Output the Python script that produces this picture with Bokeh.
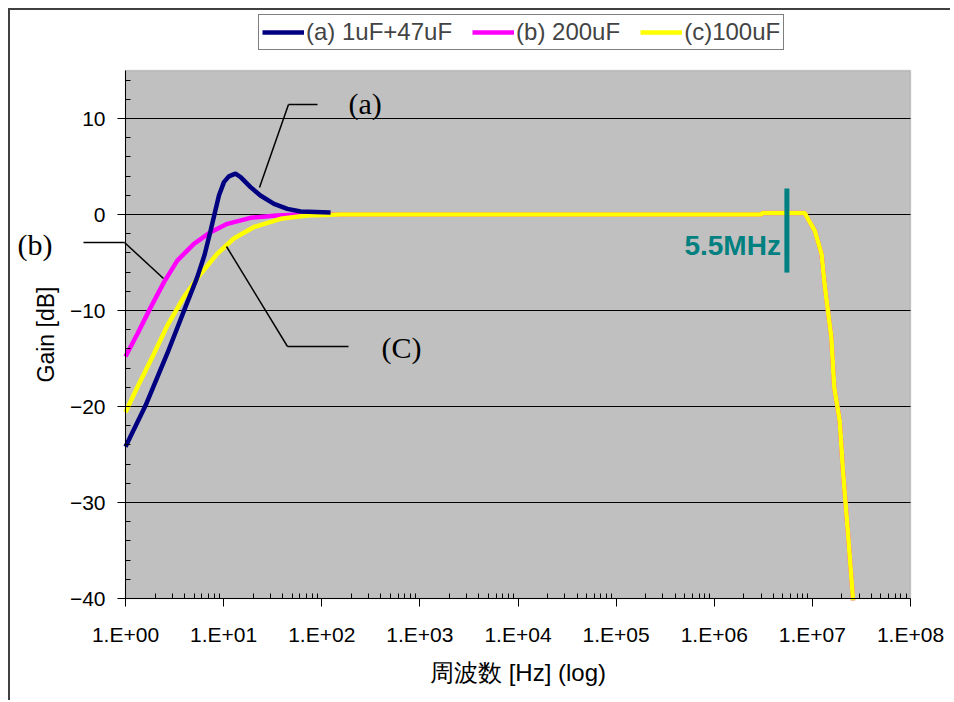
import math
from bokeh.plotting import figure
from bokeh.models import FixedTicker, Legend, LegendItem, Label, Arrow, Range1d, BoxAnnotation
from bokeh.embed import file_html
from bokeh.resources import INLINE

# ---- data ----
freq_a = [1, 1.6, 2.66, 4.26, 5.4, 6.4, 7.36, 8.96, 10.07, 11.3, 13.2, 14.9, 18.8, 23.7, 32.6, 44.6, 61, 123]
gain_a = [-24.2, -19.9, -14.5, -9.15, -6.5, -4.2, -1.7, 1.98, 3.37, 3.97, 4.25, 3.9, 2.85, 1.98, 1.11, 0.59, 0.31, 0.2]

freq_b = [1, 1.32, 1.8, 2.46, 3.37, 4.98, 7.36, 10.9, 18.8, 35, 60, 150, 3.0e6, 3.1e6,
          8.35e6, 1.06e7, 1.24e7, 1.33e7, 1.56e7, 1.67e7, 1.9e7, 2.05e7, 2.31e7, 2.6e7]
gain_b = [-14.8, -12.45, -9.7, -7.07, -4.8, -3.06, -1.84, -0.97, -0.35, -0.1, 0, 0, 0, 0.15,
          0.15, -1.7, -4.1, -7.2, -12.8, -18.0, -21.5, -26.7, -33.3, -40.2]

freq_c = [1, 1.32, 1.95, 2.66, 3.93, 5.82, 8.6, 12.7, 20.4, 38, 71, 150, 3.0e6, 3.1e6,
          8.35e6, 1.06e7, 1.24e7, 1.33e7, 1.56e7, 1.67e7, 1.9e7, 2.05e7, 2.31e7, 2.6e7]
gain_c = [-20.6, -18.0, -14.5, -11.6, -8.6, -6.2, -4.1, -2.5, -1.3, -0.45, -0.1, 0, 0, 0.15,
          0.15, -1.7, -4.1, -7.2, -12.8, -18.0, -21.5, -26.7, -33.3, -40.2]

series_labels = ["(a) 1uF+47uF", "(b) 200uF", "(c)100uF"]

marker_freq = 5.5e6
marker_top = 2.7
marker_bottom = -6.05
marker_label = "5.5MHz"

x_ticks = [1, 10, 100, 1e3, 1e4, 1e5, 1e6, 1e7, 1e8]
x_tick_labels = ["1.E+00", "1.E+01", "1.E+02", "1.E+03", "1.E+04",
                 "1.E+05", "1.E+06", "1.E+07", "1.E+08"]
x_minor = [m * d for d in [1, 10, 100, 1e3, 1e4, 1e5, 1e6, 1e7] for m in range(2, 10)]
y_ticks = [-40, -30, -20, -10, 0, 10]
y_tick_labels = ["\u221240", "\u221230", "\u221220", "\u221210", "0", "10"]
y_minor = list(range(-40, 16, 2))
y_grid = [-30, -20, -10, 0, 10]

x_lo, x_hi = 1, 1e8
y_lo, y_hi = -40, 15

x_title = "周波数 [Hz] (log)"
y_title = "Gain [dB]"
note_texts = ["(a)", "(b)", "(C)"]

SANS = "Liberation Sans"
SERIF = "Liberation Serif"

# ---- layout: the frame fills the canvas; the plot area sits at px 125..910 x 70..598 ----
W, H = 950, 700
PX_L, PX_R, PX_T, PX_B = 125, 910, 70, 598
dec_px = (PX_R - PX_L) / math.log10(x_hi / x_lo)
db_px = (PX_B - PX_T) / (y_hi - y_lo)
x_range = Range1d(x_lo * 10 ** (-PX_L / dec_px), x_lo * 10 ** ((W - PX_L) / dec_px))
y_range = Range1d(y_lo - (H - PX_B) / db_px, y_hi + PX_T / db_px)

def fx(px):
    return x_lo * 10 ** ((px - PX_L) / dec_px)

def fy(py):
    return y_hi - (py - PX_T) / db_px

p = figure(x_axis_type="log", x_range=x_range, y_range=y_range,
           frame_width=W, frame_height=H, min_border=0,
           output_backend="svg", toolbar_location=None,
           background_fill_alpha=0, border_fill_alpha=0)
p.styles = {"box-shadow": "inset 8px 8px 0 0 white, inset 10px 10px 0 0 #404040",
            "background": "white"}
p.outline_line_color = None
p.grid.visible = False

# plot area
p.add_layout(BoxAnnotation(left=x_lo, right=x_hi, bottom=y_lo, top=y_hi,
                           fill_color="#C0C0C0", fill_alpha=1,
                           line_color="#808080", line_width=1.5, level="underlay"))
p.segment(x0=[x_lo] * len(y_grid), x1=[x_hi] * len(y_grid), y0=y_grid, y1=y_grid,
          line_color="black", line_width=1)

# axes
xa = p.xaxis[0]
xa.ticker = FixedTicker(ticks=x_ticks, minor_ticks=x_minor)
xa.major_label_overrides = {t: l for t, l in zip(x_ticks, x_tick_labels)}
xa.fixed_location = y_lo
xa.bounds = (x_lo, x_hi)
ya = p.yaxis[0]
ya.ticker = FixedTicker(ticks=y_ticks, minor_ticks=y_minor)
ya.major_label_overrides = {t: l for t, l in zip(y_ticks, y_tick_labels)}
ya.fixed_location = x_lo
ya.bounds = (y_lo, y_hi)
for ax in (xa, ya):
    ax.axis_line_color = "black"
    ax.major_tick_line_color = "black"
    ax.minor_tick_line_color = "black"
    ax.major_tick_in = 0
    ax.major_tick_out = 8
    ax.minor_tick_in = 5
    ax.minor_tick_out = 0
    ax.major_label_text_font = SANS
    ax.major_label_text_font_size = "21px"
    ax.major_label_text_color = "black"
xa.major_label_standoff = 16
ya.major_label_standoff = 12

p.add_layout(Label(x=fx((PX_L + PX_R) / 2), y=fy(672), text=x_title,
                   text_align="center", text_baseline="middle",
                   text_font=SANS, text_font_size="24px", text_color="black"))
p.add_layout(Label(x=fx(45), y=(y_lo + y_hi) / 2, text=y_title, angle=math.pi / 2,
                   text_align="center", text_baseline="middle",
                   text_font=SANS, text_font_size="23px", text_color="black"))

# curves
r_b = p.line(freq_b, gain_b, line_color="#FF00FF", line_width=4.5)
r_c = p.line(freq_c, gain_c, line_color="#FFFF00", line_width=4.5)
r_a = p.line(freq_a, gain_a, line_color="#000080", line_width=4.5)

# 5.5 MHz marker
p.segment(x0=[marker_freq], y0=[marker_top], x1=[marker_freq], y1=[marker_bottom],
          line_color="#008080", line_width=5)
p.add_layout(Label(x=marker_freq, y=-3.2, text=marker_label, x_offset=-6,
                   text_align="right", text_baseline="middle",
                   text_font=SANS, text_font_style="bold", text_font_size="28px",
                   text_color="#008080"))

# leader annotations
def leader(pts):
    for (x0, y0), (x1, y1) in zip(pts[:-1], pts[1:]):
        p.add_layout(Arrow(end=None, x_start=fx(x0), y_start=fy(y0), x_end=fx(x1), y_end=fy(y1),
                           line_color="black", line_width=1.5))

leader([(317, 104), (288, 104), (259, 187)])
leader([(83, 242), (124, 242), (163, 278)])
leader([(348, 346), (287, 346), (226, 246)])

for (px, py), tt in zip([(348, 103), (17, 244), (381, 347)], note_texts):
    p.add_layout(Label(x=fx(px), y=fy(py), text=tt, text_align="left", text_baseline="middle",
                       text_font=SERIF, text_font_size="30px", text_color="black"))

legend = Legend(items=[LegendItem(label=series_labels[0], renderers=[r_a]),
                       LegendItem(label=series_labels[1], renderers=[r_b]),
                       LegendItem(label=series_labels[2], renderers=[r_c])],
                orientation="horizontal", location=(258, H - 50),
                glyph_width=42, glyph_height=20, label_standoff=2, spacing=20,
                padding=3, margin=0,
                label_text_font=SANS, label_text_font_size="24px",
                border_line_color="black", border_line_width=1.5,
                background_fill_color="white", background_fill_alpha=1)
p.add_layout(legend, "center")

open("out.html", "w").write(file_html(p, INLINE))
